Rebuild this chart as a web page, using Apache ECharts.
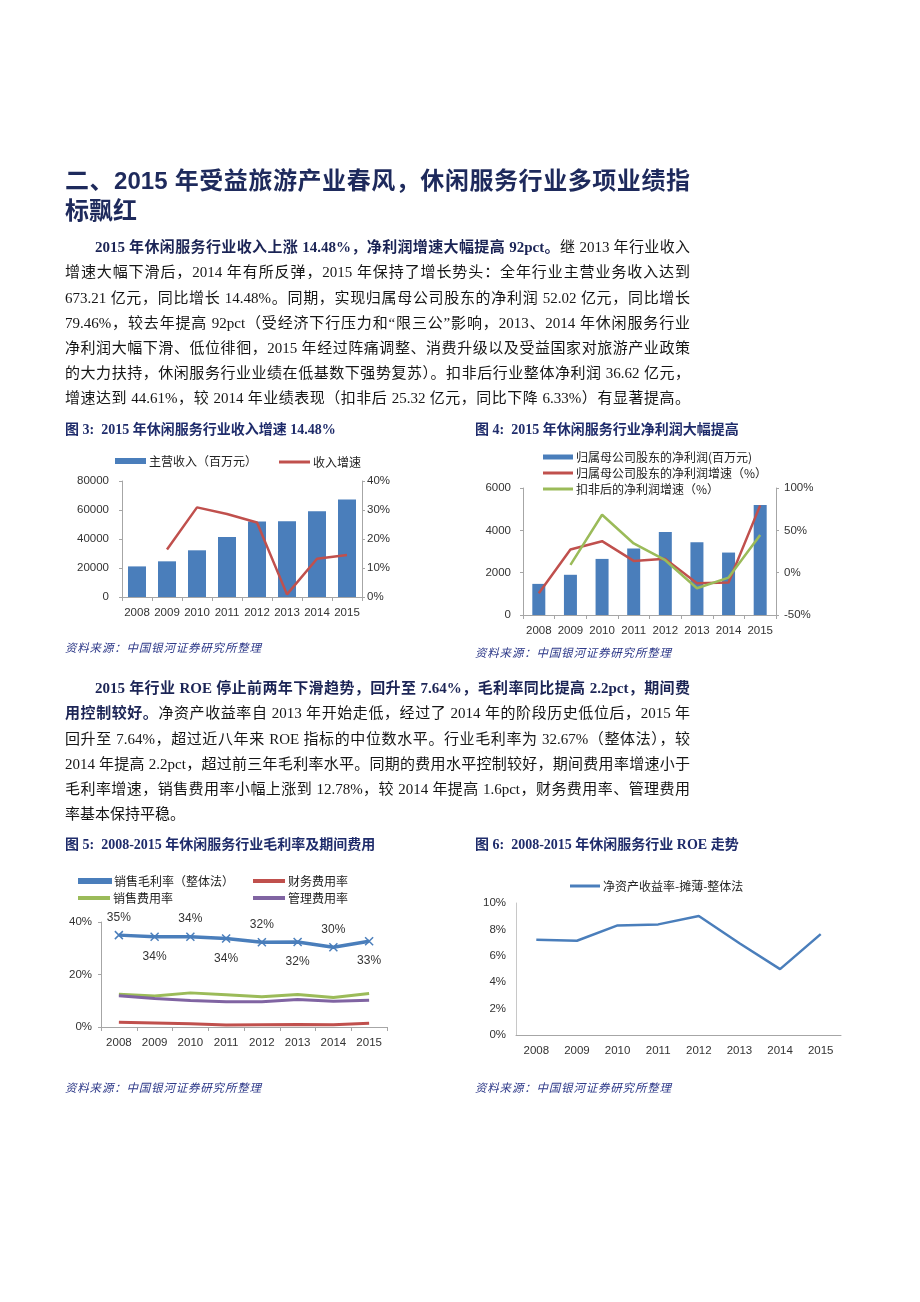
<!DOCTYPE html>
<html>
<head>
<meta charset="utf-8">
<script src="https://cdn.jsdelivr.net/npm/echarts@6/dist/echarts.min.js"></script>
<style>
  html, body { margin:0; padding:0; background:#fff; }
  #page { position:relative; width:920px; height:1302px; overflow:hidden; }
  #chart { position:absolute; left:0; top:0; width:920px; height:1302px; }
  .ln { position:absolute; left:65px; width:625px; height:20px; line-height:20px;
        font-family:"Liberation Serif","Noto Sans CJK SC",serif; font-size:15px; color:#151515;
        text-align:justify; text-align-last:justify; z-index:2; }
  .ln.last { text-align-last:left; }
  .ln b { color:#1b2455; }
  .hd { position:absolute; left:65px; width:625px; height:30px; line-height:30px;
        font-family:"Liberation Sans","Noto Sans CJK SC",sans-serif; font-weight:bold; font-size:24px;
        color:#1e2a5c; text-align:justify; text-align-last:justify; z-index:2; }
  .hd.last { text-align-last:left; }
  .ttl { position:absolute; height:18px; line-height:18px; font-family:"Liberation Serif","Noto Sans CJK SC",serif;
        font-weight:bold; font-size:14px; color:#1f2c6b; white-space:nowrap; z-index:2; }
  .src { position:absolute; height:16px; line-height:16px; font-family:"Noto Sans CJK SC",sans-serif;
        font-style:italic; font-size:11.5px; letter-spacing:0.8px; color:#2c3888; white-space:nowrap; z-index:2; }
</style>
</head>
<body>
<div id="page">
  <div id="chart"></div>

  <div class="hd" style="top:166px">二、2015 年受益旅游产业春风，休闲服务行业多项业绩指</div>
  <div class="hd last" style="top:196px">标飘红</div>

  <div class="ln" style="top:237px;left:95px;width:595px"><b>2015 年休闲服务行业收入上涨 14.48%，净利润增速大幅提高 92pct。</b>继 2013 年行业收入</div>
  <div class="ln" style="top:262px">增速大幅下滑后，2014 年有所反弹，2015 年保持了增长势头：全年行业主营业务收入达到</div>
  <div class="ln" style="top:288px">673.21 亿元，同比增长 14.48%。同期，实现归属母公司股东的净利润 52.02 亿元，同比增长</div>
  <div class="ln" style="top:313px">79.46%，较去年提高 92pct（受经济下行压力和“限三公”影响，2013、2014 年休闲服务行业</div>
  <div class="ln" style="top:338px">净利润大幅下滑、低位徘徊，2015 年经过阵痛调整、消费升级以及受益国家对旅游产业政策</div>
  <div class="ln" style="top:363px">的大力扶持，休闲服务行业业绩在低基数下强势复苏）。扣非后行业整体净利润 36.62 亿元，</div>
  <div class="ln" style="top:388px">增速达到 44.61%，较 2014 年业绩表现（扣非后 25.32 亿元，同比下降 6.33%）有显著提高。</div>

  <div class="ttl" style="left:65px;top:421px">图 3:&nbsp; 2015 年休闲服务行业收入增速 14.48%</div>
  <div class="ttl" style="left:475px;top:421px">图 4:&nbsp; 2015 年休闲服务行业净利润大幅提高</div>
  <div class="src" style="left:65px;top:639px">资料来源：中国银河证券研究所整理</div>
  <div class="src" style="left:475px;top:644px">资料来源：中国银河证券研究所整理</div>

  <div class="ln" style="top:678px;left:95px;width:595px"><b>2015 年行业 ROE 停止前两年下滑趋势，回升至 7.64%，毛利率同比提高 2.2pct，期间费</b></div>
  <div class="ln" style="top:703px"><b>用控制较好。</b>净资产收益率自 2013 年开始走低，经过了 2014 年的阶段历史低位后，2015 年</div>
  <div class="ln" style="top:729px">回升至 7.64%，超过近八年来 ROE 指标的中位数水平。行业毛利率为 32.67%（整体法），较</div>
  <div class="ln" style="top:754px">2014 年提高 2.2pct，超过前三年毛利率水平。同期的费用水平控制较好，期间费用率增速小于</div>
  <div class="ln" style="top:779px">毛利率增速，销售费用率小幅上涨到 12.78%，较 2014 年提高 1.6pct，财务费用率、管理费用</div>
  <div class="ln last" style="top:804px">率基本保持平稳。</div>

  <div class="ttl" style="left:65px;top:836px">图 5:&nbsp; 2008-2015 年休闲服务行业毛利率及期间费用</div>
  <div class="ttl" style="left:475px;top:836px">图 6:&nbsp; 2008-2015 年休闲服务行业 ROE 走势</div>
  <div class="src" style="left:65px;top:1079px">资料来源：中国银河证券研究所整理</div>
  <div class="src" style="left:475px;top:1079px">资料来源：中国银河证券研究所整理</div>
</div>
<script>
// ---------- data ----------
const years = ['2008','2009','2010','2011','2012','2013','2014','2015'];
// Fig 3
const revenue = [21100, 24600, 32200, 41400, 52000, 52200, 59100, 67321];
const revenueGrowth = [null, 16.4, 30.9, 28.6, 25.7, 0.9, 13.2, 14.48];
// Fig 4
const netProfit = [1470, 1900, 2650, 3140, 3920, 3440, 2950, 5202];
const netProfitGrowth = [-24.4, 27.4, 37.2, 13.9, 16.3, -12.5, -11.7, 79.46];
const deductedGrowth = [null, 9.2, 68.4, 34.5, 14.7, -18.4, -5.8, 44.61];
// Fig 5
const grossMargin = [35.0, 34.4, 34.4, 33.7, 32.3, 32.4, 30.4, 32.67];
const financeRate = [1.8, 1.5, 1.2, 0.8, 0.9, 1.0, 0.9, 1.4];
const salesRate = [12.5, 11.8, 13.0, 12.3, 11.5, 12.4, 11.2, 12.78];
const mgmtRate = [11.9, 10.9, 10.1, 9.6, 9.6, 10.5, 9.8, 10.2];
// Fig 6
const roe = [7.22, 7.14, 8.30, 8.38, 9.01, 6.95, 4.99, 7.64];

// ---------- chart ----------
const BLUE = '#4a7ebb', RED = '#c0504d', GREEN = '#9bbb59', PURPLE = '#8064a2';
const AX = '#a6a6a6';
const lblFont = { color:'#333', fontSize:11.5, fontFamily:'Liberation Sans, Arial, sans-serif' };
const legFont = { color:'#222', fontSize:12, fontFamily:'Noto Sans CJK SC, sans-serif' };
const plain = v => String(v);
const pct = v => v + '%';

function xAx(grid, ticks) {
  return { type:'category', gridIndex:grid, data:years, boundaryGap:true,
    axisLine:{ show:true, lineStyle:{ color:AX, width:1 } },
    axisTick:{ show:ticks, length:4, lineStyle:{ color:AX } },
    axisLabel:Object.assign({ margin:10, interval:0 }, lblFont),
    splitLine:{ show:false } };
}
function yAx(grid, min, max, interval, pos, fmt, margin, ticks, color) {
  return { type:'value', gridIndex:grid, min:min, max:max, interval:interval, position:pos,
    axisLine:{ show:true, lineStyle:{ color:color || AX, width:1 } },
    axisTick:{ show:ticks, length:3, lineStyle:{ color:color || AX } },
    axisLabel:Object.assign({ margin:margin, formatter:fmt }, lblFont),
    splitLine:{ show:false } };
}
function leg(name, left, top, w, h) {
  return { data:[name], left:left, top:top, itemWidth:w, itemHeight:h, icon:'rect',
    itemGap:0, selectedMode:false, padding:0, textStyle:Object.assign({ padding:[0,0,0,-2] }, legFont) };
}

const chart = echarts.init(document.getElementById('chart'), null, { renderer:'canvas' });
chart.setOption({
  animation:false,
  backgroundColor:'transparent',
  grid:[
    { left:122, top:481, width:240, height:116 },
    { left:523, top:488, width:253, height:127 },
    { left:101, top:922, width:286, height:105 },
    { left:516, top:903, width:325, height:132 }
  ],
  xAxis:[ xAx(0,true), xAx(1,true), xAx(2,true), xAx(3,false) ],
  yAxis:[
    yAx(0, 0, 80000, 20000, 'left', plain, 13, true),
    yAx(0, 0, 40, 10, 'right', pct, 5, true),
    yAx(1, 0, 6000, 2000, 'left', plain, 12, true),
    yAx(1, -50, 100, 50, 'right', pct, 8, true),
    yAx(2, 0, 40, 20, 'left', pct, 9, true),
    yAx(3, 0, 10, 2, 'left', pct, 10, false, '#c8c8c8')
  ],
  legend:[
    leg('主营收入（百万元）', 115, 455, 31, 6),
    leg('收入增速', 279, 456, 31, 3),
    leg('归属母公司股东的净利润(百万元)', 543, 451, 30, 5),
    leg('归属母公司股东的净利润增速（%）', 543, 467, 30, 3),
    leg('扣非后的净利润增速（%）', 543, 483, 30, 3),
    leg('销售毛利率（整体法）', 78, 875, 32, 4),
    leg('财务费用率', 253, 875, 32, 4),
    leg('销售费用率', 78, 892, 32, 4),
    leg('管理费用率', 253, 892, 32, 4),
    leg('净资产收益率-摊薄-整体法', 570, 880, 30, 3)
  ],
  series:[
    { name:'主营收入（百万元）', type:'bar', xAxisIndex:0, yAxisIndex:0, data:revenue,
      barWidth:18, itemStyle:{ color:BLUE } },
    { name:'收入增速', type:'line', xAxisIndex:0, yAxisIndex:1, data:revenueGrowth,
      symbol:'none', lineStyle:{ color:RED, width:2.5 }, itemStyle:{ color:RED } },

    { name:'归属母公司股东的净利润(百万元)', type:'bar', xAxisIndex:1, yAxisIndex:2, data:netProfit,
      barWidth:13, itemStyle:{ color:BLUE } },
    { name:'归属母公司股东的净利润增速（%）', type:'line', xAxisIndex:1, yAxisIndex:3, data:netProfitGrowth,
      symbol:'none', lineStyle:{ color:RED, width:2.5 }, itemStyle:{ color:RED } },
    { name:'扣非后的净利润增速（%）', type:'line', xAxisIndex:1, yAxisIndex:3, data:deductedGrowth,
      symbol:'none', lineStyle:{ color:GREEN, width:2.5 }, itemStyle:{ color:GREEN } },

    { name:'销售毛利率（整体法）', type:'line', xAxisIndex:2, yAxisIndex:4,
      data:grossMargin.map((v,i) => ({ value:v, label:{ position: i % 2 ? 'bottom' : 'top', distance: i % 2 ? 9 : 7 } })),
      symbol:'path://M0,0L10,10M10,0L0,10', symbolSize:8,
      itemStyle:{ color:BLUE, borderColor:BLUE, borderWidth:1.5 },
      lineStyle:{ color:BLUE, width:3.5 },
      label:{ show:true, formatter:p => Math.round(p.value) + '%', color:'#333', fontSize:12,
              fontFamily:'Liberation Sans, Arial, sans-serif' } },
    { name:'财务费用率', type:'line', xAxisIndex:2, yAxisIndex:4, data:financeRate,
      symbol:'none', lineStyle:{ color:RED, width:3 }, itemStyle:{ color:RED } },
    { name:'销售费用率', type:'line', xAxisIndex:2, yAxisIndex:4, data:salesRate,
      symbol:'none', lineStyle:{ color:GREEN, width:3 }, itemStyle:{ color:GREEN } },
    { name:'管理费用率', type:'line', xAxisIndex:2, yAxisIndex:4, data:mgmtRate,
      symbol:'none', lineStyle:{ color:PURPLE, width:3 }, itemStyle:{ color:PURPLE } },

    { name:'净资产收益率-摊薄-整体法', type:'line', xAxisIndex:3, yAxisIndex:5, data:roe,
      symbol:'none', lineStyle:{ color:BLUE, width:2.5 }, itemStyle:{ color:BLUE } }
  ]
});
</script>
</body>
</html>
